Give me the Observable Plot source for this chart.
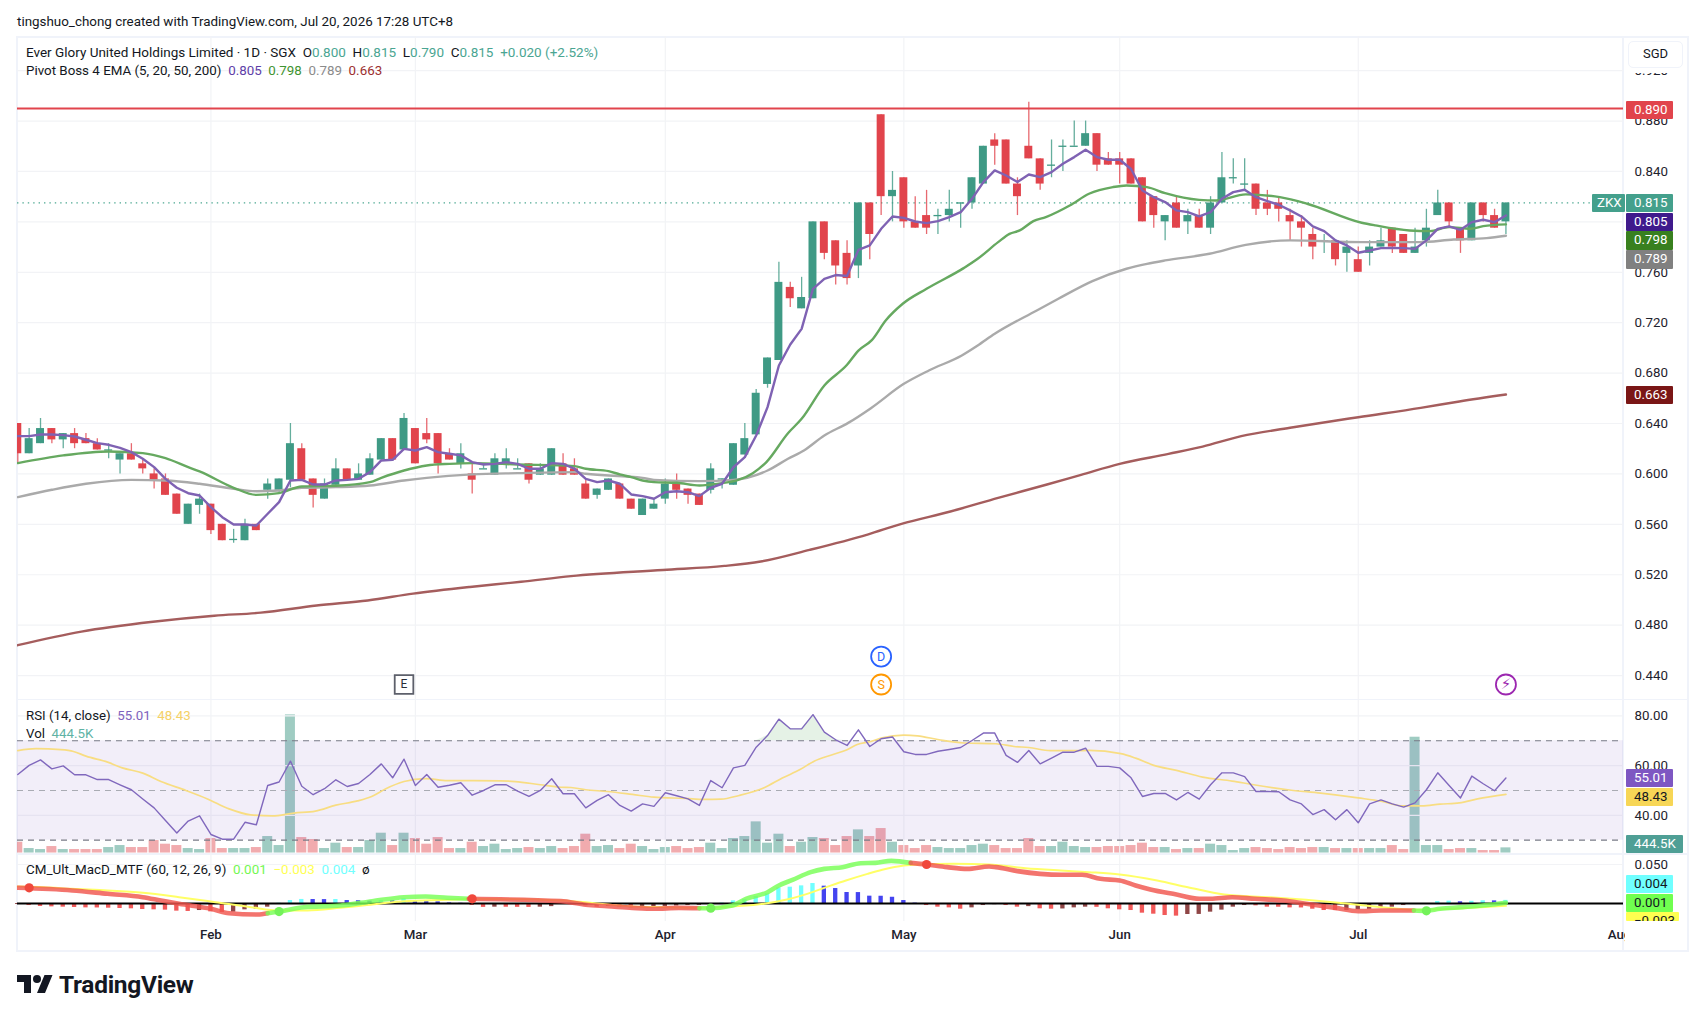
<!DOCTYPE html>
<html><head><meta charset="utf-8">
<script src="https://cdn.jsdelivr.net/npm/d3@7"></script>
<script src="https://cdn.jsdelivr.net/npm/@observablehq/plot@0.6"></script>
<style>
html,body{margin:0;padding:0;background:#fff;overflow:hidden;width:1702px;height:1014px}
body{position:relative;z-index:0;font-family:Roboto,"Liberation Sans",sans-serif;color:#131722}
svg{position:absolute;left:0;top:0}
.t{position:absolute;white-space:pre;line-height:16px}
.b{position:absolute;height:18.6px;line-height:18.6px;font-size:13.3px;padding-left:8.5px;box-sizing:border-box;border-radius:1px;color:#fff}
.ln{position:absolute;background:#f0f3fa}
</style></head><body>
<div id="root"></div>
<script>
const opens=[.640,.616,.624,.636,.627,.632,.628,.624,.619,.611,.616,.608,.600,.596,.584,.560,.575,.576,.560,.548,.547,.560,.587,.587,.595,.620,.596,.580,.591,.604,.595,.599,.611,.628,.619,.636,.632,.632,.616,.608,.600,.604,.599,.608,.604,.608,.599,.599,.608,.604,.592,.583,.587,.592,.580,.567,.572,.580,.592,.588,.584,.587,.596,.591,.615,.631,.671,.690,.748,.731,.739,.80,.785,.775,.765,.815,.885,.82,.835,.80,.805,.805,.805,.815,.815,.83,.865,.865,.83,.86,.85,.845,.86,.86,.86,.87,.85,.85,.85,.835,.82,.80,.815,.80,.805,.795,.815,.835,.83,.83,.815,.815,.805,.80,.79,.785,.785,.775,.77,.775,.78,.795,.79,.775,.785,.805,.815,.795,.785,.815,.805,.80];
const closes=[.616,.628,.636,.627,.632,.624,.624,.619,.619,.616,.611,.604,.595,.583,.568,.576,.580,.555,.547,.548,.560,.555,.592,.596,.624,.595,.583,.592,.604,.595,.600,.612,.628,.611,.644,.608,.627,.608,.611,.616,.595,.604,.612,.612,.604,.595,.604,.620,.599,.599,.580,.588,.596,.580,.572,.580,.576,.592,.587,.583,.575,.604,.596,.624,.628,.664,.692,.752,.739,.740,.80,.775,.765,.755,.815,.79,.82,.825,.80,.795,.795,.805,.81,.815,.835,.86,.86,.83,.82,.85,.83,.845,.86,.86,.87,.845,.845,.845,.83,.80,.805,.805,.795,.805,.795,.815,.835,.835,.83,.81,.81,.81,.80,.795,.78,.785,.77,.78,.76,.78,.785,.78,.775,.78,.795,.815,.80,.785,.815,.805,.795,.815];
const highs=[.640,.636,.644,.636,.632,.636,.632,.628,.624,.616,.624,.612,.604,.600,.584,.576,.584,.576,.560,.556,.564,.560,.596,.596,.640,.624,.596,.596,.612,.604,.608,.616,.628,.628,.648,.636,.644,.632,.620,.624,.608,.608,.616,.620,.612,.608,.608,.620,.616,.612,.596,.588,.596,.592,.580,.580,.580,.596,.600,.588,.584,.608,.596,.624,.640,.667,.692,.768,.752,.756,.80,.80,.785,.785,.815,.815,.885,.84,.835,.82,.825,.81,.825,.815,.835,.86,.87,.865,.835,.895,.85,.865,.865,.88,.88,.87,.855,.855,.85,.835,.82,.805,.82,.81,.81,.82,.855,.85,.85,.83,.825,.82,.81,.805,.795,.79,.785,.785,.78,.785,.795,.795,.79,.795,.81,.825,.815,.795,.815,.815,.81,.815];
const lows=[.608,.616,.624,.624,.620,.620,.624,.619,.612,.600,.611,.600,.588,.583,.568,.560,.568,.552,.547,.545,.547,.555,.580,.584,.589,.595,.573,.580,.591,.595,.595,.599,.611,.611,.619,.608,.624,.600,.611,.604,.584,.604,.599,.604,.604,.592,.599,.599,.599,.599,.580,.580,.587,.580,.572,.567,.572,.576,.580,.576,.575,.584,.588,.591,.615,.631,.668,.690,.732,.731,.739,.77,.75,.75,.755,.77,.805,.80,.795,.795,.79,.79,.80,.795,.81,.83,.845,.83,.805,.85,.825,.835,.84,.86,.86,.84,.845,.83,.83,.80,.795,.785,.795,.79,.795,.79,.815,.83,.825,.805,.805,.80,.785,.78,.77,.775,.765,.76,.76,.765,.78,.775,.775,.775,.78,.805,.795,.775,.785,.80,.795,.79];
const ema5=[.630,.630,.6313,.6313,.6308,.6297,.6271,.6244,.6231,.6207,.6173,.612,.6054,.5961,.589,.5847,.5829,.5736,.5657,.5599,.5599,.5591,.5684,.5776,.5948,.5953,.5916,.5916,.5948,.5953,.5961,.6014,.6107,.6112,.6199,.6186,.6213,.6173,.616,.6147,.6094,.6075,.608,.6094,.608,.6041,.6041,.6086,.608,.6041,.5961,.5935,.5948,.5922,.5837,.5824,.5803,.5855,.5863,.5855,.5824,.589,.5922,.6053,.6133,.6305,.653,.686,.7027,.7151,.7469,.7548,.7578,.757,.7778,.7813,.7945,.8043,.8032,.8003,.799,.8006,.8038,.8077,.8183,.8316,.8408,.8368,.8316,.8376,.8355,.8395,.8461,.8514,.8572,.8514,.8493,.8493,.842,.8249,.8196,.8157,.8091,.8077,.8043,.8077,.8183,.8236,.8255,.8196,.8165,.8136,.8091,.8043,.7964,.7927,.7853,.7813,.7755,.7773,.7792,.7794,.7792,.7786,.7853,.7945,.7964,.7937,.7998,.8017,.7998,.805];
const ema20X=[0,4,8,11,13,15,16,19,21,23,25,28,31,32,34,36,38,40,44,49,50,52,53,54,55,56,58,60,61,62,63.3,64.7,65.9,67.8,69,71,73,74,75.2,76.4,77.9,80,83.3,84.5,86.3,87.3,88.2,89.4,90.5,92.6,94.3,96.4,97.6,99.4,101,104,105.5,108.1,111.1,113.5,118.3,119.5,122.5,124.3,126,127.9,129,131];
const ema20=[.6086,.6147,.6178,.6165,.6125,.6054,.602,.589,.5834,.5848,.59,.5906,.5935,.5969,.6027,.6067,.608,.6086,.6075,.6062,.6041,.6022,.5996,.5975,.5948,.5935,.593,.5908,.5916,.5927,.5948,.6006,.6094,.6323,.6437,.6702,.6866,.6979,.7064,.7217,.735,.7469,.7635,.7707,.7839,.7905,.7932,.8006,.8038,.813,.8223,.8276,.8289,.8276,.8228,.8175,.817,.8218,.8196,.8144,.7993,.7972,.7932,.7927,.7958,.7945,.7966,.798];
const ema50X=[0,3,6,10,13,16,19,21,23,25,28,31,34,36,40,44,49,50,55,56,60,63,66,67.8,69.2,71,73.1,75.1,78,80.2,83.1,84.5,86,89.7,91.6,94.6,97.6,99.4,101,104.9,108.1,112,118.3,123.4,126.4,129.3,131];
const ema50=[.5816,.5874,.5922,.5953,.5948,.5922,.5882,.5863,.5869,.589,.5895,.5908,.5948,.5969,.5996,.6006,.6014,.6001,.5969,.5953,.5943,.5953,.6027,.612,.6186,.6305,.6405,.6522,.6715,.6821,.694,.7019,.7112,.7297,.739,.753,.7628,.7667,.7694,.7747,.7818,.7853,.7839,.7839,.786,.7871,.789];
const ema200X=[0,5.6,11.9,17.3,21.4,26.3,30.8,34.8,39.8,44.3,48.7,56.8,62.2,65.4,69.7,74.8,77.8,82.1,86.3,90.6,93.6,97,101.3,104.3,107.7,112,118,123.5,126.9,131];
const ema200=[.4641,.4749,.4827,.4875,.4899,.4956,.4996,.505,.5103,.5144,.5189,.5238,.527,.5305,.5397,.5519,.5604,.5702,.581,.5916,.5993,.608,.6159,.6217,.63,.6366,.645,.6524,.6575,.663];
const rsi=[56.4,60.1,62.3,58.7,59.9,56.3,56.3,54.4,54.4,52.3,50.3,46.6,43,37.9,32.9,37.7,39.8,32.3,30.4,30.4,37.2,36.2,52,53.4,61.8,51.7,48.3,50.7,54.3,51.6,52.8,56.4,60.7,55.1,62.6,52,56.4,51.3,52.1,53.1,48.1,50,52.3,52.3,49.7,47.6,50,54.7,48.7,48.7,43,46,48.3,44,41.7,44.6,43.6,49.1,47.9,46.6,44,54,51.1,59.1,60.1,67.4,72.1,78.7,74.8,74.8,80.5,73.5,70.4,68.1,74.4,67.7,70.8,71.5,65.6,64.5,64.5,65.8,66.5,67.3,70.1,73.1,73.1,64.1,61.3,66.1,60.7,63,65.4,65.4,67,59.7,59.7,59.1,55.1,47.6,48.8,48.8,46.2,49.2,46.5,52.3,57.1,57.1,55.6,49.6,49.6,49.5,46.2,44.6,40.3,42.3,38.2,42.3,37,44.6,46.2,44.6,43.3,45,50.3,57.1,52,47,55.8,52.7,49.9,55.01];
const rsiMaX=[0,1.6,3.8,4.9,6,7.9,9.2,11,12.6,14.8,16.7,18.6,20.5,22.4,24.3,26.2,28,29.9,31.2,32.4,34,35.9,37.8,42.5,43.8,46,47.8,48.7,50,51.9,54.1,56,58.8,60.4,61.9,63.5,65.7,67.3,68.9,70.1,71.7,73,73.9,75.1,76.1,78,79.2,81.1,83.3,86.1,87.7,89,90.9,93,94.3,97.1,98.4,100,102,104.3,106.9,108.8,111.8,114.7,118,120,121.9,123.6,125.2,126.9,128.5,131];
const rsiMa=[66,66.8,66.4,65.7,63.8,61.4,59.1,57,53.6,50,46.6,42.6,40.2,39.8,40.9,41.7,44.1,45.8,47.7,50.7,53.6,54.8,54,53.9,53.6,52.3,51.3,51.2,50.3,49.6,48.4,47.3,46.8,46.4,46.5,48,51.1,55,58.5,61.8,64.4,66.4,68.5,69.7,71.2,72.3,72,70.4,69.1,68.8,67.7,67.3,66,66,66.1,64.8,63,60.1,58.1,55.4,53.8,52.3,50.3,48.9,47,45.7,43.8,43.8,44.5,45,46.6,48.43];
const volumeK=[917,389,306,556,306,306,306,306,473,639,473,473,1056,750,639,389,306,1223,389,389,389,473,1390,639,11537,1307,1140,389,834,473,473,1056,1668,639,1668,1223,750,1307,389,389,917,556,750,306,389,473,389,556,389,556,1585,556,639,389,750,556,306,473,556,389,473,834,389,1223,1390,2613,834,1585,556,917,1307,1223,639,1390,1946,1390,2057,917,639,389,639,473,389,389,639,750,639,389,389,1223,556,556,917,556,473,473,556,556,639,834,473,473,306,389,389,750,639,222,389,473,389,306,473,389,473,473,389,389,389,389,389,639,306,9674,639,639,306,389,389,222,222,444.5];
const macdX=[0,4.8,7.9,11,12.6,14.2,17,18.6,21.1,22,23,25.2,28.4,31.2,34,35.9,37.8,39.7,47.8,50,51.9,54.1,56,58.2,60,60.9,62.9,64.1,66,67,68.2,69.8,71,72.6,74.2,75.5,76.9,78.6,80,81.8,83.6,85.5,86.1,88,90,91.9,93.7,95.3,97,98.4,99.7,102,104,105,106.9,108.9,111.4,113.4,116,118,120,122.9,123.9,125.2,127.2,129.8,131];
const macdV=[.0201,.0167,.0124,.0081,.0038,-.0004,-.0068,-.0124,-.0141,-.0124,-.0103,-.0047,-.0026,.003,.0081,.009,.0073,.006,.003,-.0017,-.0034,-.0056,-.0068,-.0056,-.006,-.006,-.0026,.006,.0145,.0231,.0303,.0402,.0444,.0466,.0517,.0521,.0547,.0521,.05,.0466,.0444,.0474,.0466,.0415,.038,.0368,.0368,.0316,.0295,.0231,.018,.0115,.006,.006,.0081,.006,.0038,-.0004,-.0056,-.0098,-.009,-.009,-.0094,-.0068,-.0047,-.0013,.001];
const macdBreaks=[22,39.7,60,78.6,122.9,131];
const crossX=[1,23,40,61,80,124];
const signalX=[0,2.3,4.8,7.9,11,14.2,17.4,20.5,23,25.5,28.4,31.8,34,37.8,40,47.8,54.1,57.2,60.4,62.9,65.7,67.6,69.2,71,72.9,74.8,76.1,78,79.2,82.4,85.5,88.7,91.8,94.3,97,100.3,103,106.2,110.1,113.4,116.7,120,123,126.2,131];
const signalV=[.0218,.0209,.0188,.0167,.0137,.0081,.0017,-.0047,-.009,-.009,-.0056,-.0004,.003,.0047,.006,.0038,-.0038,-.0047,-.0056,-.0038,-.0004,.0047,.0111,.0201,.0295,.038,.0432,.0487,.05,.0509,.05,.0453,.0423,.0402,.0372,.0295,.0209,.0115,.0081,.0047,.0004,-.0047,-.0081,-.0068,-.003];
const histMilli=[-1.3,-2.6,-3.8,-4.3,-4.7,-5.1,-5.6,-5.7,-6,-6.4,-6.8,-7.7,-8.1,-8.5,-9.8,-10.2,-9,-10.7,-11.5,-11.1,-8.1,-7.3,-4.7,.4,3.8,5.2,5.1,5,5.1,3.8,3.6,3,3.8,3.7,6,3.8,3.7,2.1,.8,.3,-2.5,-5,-4.7,-4.8,-4.9,-5,-4.7,-4,-1.3,-1.7,-3,-4.7,-3.8,-4.7,-5.6,-5.4,-5.2,-3.8,-3.2,-2.6,-2.4,-1.3,.5,3.4,5.1,9,12.4,20,20.9,22.6,25.6,22.2,19.2,14.1,14,9.4,9.3,8,3.8,.5,-2.6,-4.7,-5.6,-7.3,-5.6,-2.6,-1.5,-2.6,-4.7,-4,-6.8,-7.3,-7,-5.6,-4.7,-4.9,-6.8,-8.1,-9,-12.4,-13.7,-15.4,-16.2,-14.1,-14,-11.1,-8.5,-4.7,-2.6,-3,-4.7,-4.8,-5.6,-5.7,-7.3,-9,-9.1,-8.9,-8,-7.5,-6.4,-4.7,-2.6,-1.3,-.5,2.5,3,2.2,2.8,3.5,3.4,4];
const monthTicks=[17,35,57,78,97,118,141];
const monthNames=["Feb","Mar","Apr","May","Jun","Jul","Aug"];
const priceTicks=[.44,.48,.52,.56,.60,.64,.68,.72,.76,.80,.84,.88,.92];
const rsiTicks=[40,60,80];
const rsiLevels=[30,50,70];
const macdTicks=[.05];

const GREEN="#3f9a85",RED="#e1444c",GRID="#f2f3f6";
const FONT='Roboto,"Liberation Sans",sans-serif';
const xDomain=[-0.026,141.35];
const idx=d3.range(opens.length);
const root=document.getElementById("root");
const pts=(xs,ys)=>xs.map((x,i)=>({x,y:ys[i]}));
const pane=(top,bottom,height,domain,marks)=>{
  const p=Plot.plot({width:1702,height,marginTop:top,marginBottom:height-bottom,marginLeft:17,marginRight:79,
    x:{domain:xDomain,axis:null},y:{domain,axis:null},
    style:{background:"transparent",fontFamily:FONT,fontSize:"13.3px",color:"#1e222d",overflow:"visible"},marks});
  root.appendChild(p);return p;};
const yAxis=(ticks,fmt)=>Plot.axisY(ticks,{anchor:"right",tickSize:0,tickPadding:11,tickFormat:fmt,label:null});
const gridV=()=>Plot.gridX(monthTicks.slice(0,6),{stroke:GRID,strokeOpacity:1,strokeWidth:1.2});
const gridH=t=>Plot.gridY(t,{stroke:GRID,strokeOpacity:1,strokeWidth:1.2});
const up=i=>closes[i]>=opens[i];
const col=i=>up(i)?GREEN:RED;

// Main price pane
const bodies=idx.filter(i=>opens[i]!==closes[i]), dojis=idx.filter(i=>opens[i]===closes[i]);
const lastClose=closes[closes.length-1];
const smooth={x:"x",y:"y",strokeWidth:2.4,curve:"monotone-x",clip:true};
pane(36,699,699,[.4210,.9471],[
  gridH(priceTicks),gridV(),
  yAxis(priceTicks,d3.format(".3f")),
  Plot.ruleY([lastClose],{stroke:"#4da892",strokeWidth:1.2,strokeDasharray:"1.4,4"}),
  Plot.ruleX(idx,{x:i=>i,y1:i=>lows[i],y2:i=>highs[i],stroke:col,strokeWidth:1.3,strokeOpacity:.8,clip:true}),
  Plot.rect(bodies,{x1:i=>i-.35,x2:i=>i+.35,y1:i=>Math.min(opens[i],closes[i]),y2:i=>Math.max(opens[i],closes[i]),fill:col,clip:true}),
  Plot.ruleY(dojis,{y:i=>closes[i],x1:i=>i-.35,x2:i=>i+.35,stroke:col,strokeWidth:1.3}),
  Plot.line(pts(ema200X,ema200),{...smooth,stroke:"#a55d5d"}),
  Plot.line(pts(ema50X,ema50),{...smooth,stroke:"#aaaaaa"}),
  Plot.line(pts(ema20X,ema20),{...smooth,stroke:"#66a960"}),
  Plot.line(pts(idx,ema5),{x:"x",y:"y",stroke:"#7f62b3",strokeWidth:2.4,strokeLinejoin:"round",clip:true}),
  Plot.ruleY([.89],{stroke:RED,strokeWidth:2}),
  Plot.dot([{x:34,y:.4329}],{x:"x",y:"y",symbol:"square",r:10.5,stroke:"#5d606b",strokeWidth:1.8,fill:"#fff"}),
  Plot.text([{x:34,y:.4329,t:"E"}],{x:"x",y:"y",text:"t",fill:"#2a2e39",fontSize:12}),
  Plot.dot([{x:76,y:.4551}],{x:"x",y:"y",r:10,stroke:"#2962ff",strokeWidth:1.8,fill:"#fff"}),
  Plot.text([{x:76,y:.4551,t:"D"}],{x:"x",y:"y",text:"t",fill:"#2962ff",fontSize:12.5}),
  Plot.dot([{x:76,y:.4329}],{x:"x",y:"y",r:10,stroke:"#ff9800",strokeWidth:1.8,fill:"#fff"}),
  Plot.text([{x:76,y:.4329,t:"S"}],{x:"x",y:"y",text:"t",fill:"#ff9800",fontSize:12.5}),
  Plot.dot([{x:131,y:.4329}],{x:"x",y:"y",r:10,stroke:"#9c27b0",strokeWidth:1.8,fill:"#fff"}),
  Plot.text([{x:131,y:.4329,t:"\u26A1"}],{x:"x",y:"y",text:"t",fill:"#9c27b0",fontSize:15,fontFamily:"DejaVu Sans"})
]);

// Volume (own scale) below the RSI
pane(699,852.7,853,[0,12820],[
  Plot.rect(idx,{x1:i=>i-.44,x2:i=>i+.44,y1:0,y2:i=>volumeK[i],fill:col,fillOpacity:i=>up(i)?.5:.45,clip:true})
]);

// RSI pane
const over=idx.filter(i=>i>=65&&i<=73);
pane(699,853,853,[24.65,86.6],[
  gridH(rsiTicks),gridV(),
  Plot.rect([0],{x1:xDomain[0],x2:xDomain[1],y1:rsiLevels[0],y2:rsiLevels[2],fill:"#7e57c2",fillOpacity:.1}),
  Plot.areaY(over,{x:i=>i,y1:70,y2:i=>Math.max(70,rsi[i]),fill:"#5fae66",fillOpacity:.16}),
  Plot.ruleY([rsiLevels[0],rsiLevels[2]],{stroke:"#787b86",strokeWidth:1.2,strokeDasharray:"6,5"}),
  Plot.ruleY([rsiLevels[1]],{stroke:"#a9abb3",strokeWidth:1.2,strokeDasharray:"6,5"}),
  Plot.line(pts(rsiMaX,rsiMa),{x:"x",y:"y",stroke:"#f8dd82",strokeWidth:1.7,curve:"monotone-x"}),
  Plot.line(pts(idx,rsi),{x:"x",y:"y",stroke:"#8068bd",strokeWidth:1.4}),
  yAxis(rsiTicks,d3.format(".2f"))
]);

// MACD pane
const macdPts=pts(macdX,macdV), seg=(a,b)=>macdPts.filter(d=>d.x>=a&&d.x<=b);
const HC=i=>{const v=histMilli[i],p=i?histMilli[i-1]:v;return v>=0?(v>=p?"#70ffff":"#4444f0"):(v<p?"#f25a5a":"#8f4646");};
const macdAt=x=>d3.least(macdPts,d=>Math.abs(d.x-x)).y;
pane(853,921,951,[-18/780,50/780],[
  gridH(macdTicks),gridV(),
  Plot.rect(idx,{x1:i=>i-.19,x2:i=>i+.19,y1:0,y2:i=>histMilli[i]/1000,fill:HC}),
  Plot.ruleY([0],{stroke:"#000",strokeWidth:2}),
  Plot.line(pts(signalX,signalV),{x:"x",y:"y",stroke:"#ffff66",strokeWidth:2,curve:"monotone-x"}),
  ...macdBreaks.map((b,k)=>Plot.line(seg(k?macdBreaks[k-1]:0,b),{x:"x",y:"y",stroke:k%2?"#78ff55":"#f0564e",strokeWidth:4.6,strokeOpacity:.82,strokeLinejoin:"round",curve:"monotone-x",clip:true})),
  Plot.dot(crossX,{x:d=>d,y:macdAt,r:4.6,fill:(d,i)=>i%2?"#74f25a":"#f0483c"}),
  yAxis(macdTicks,d3.format(".3f")),
  Plot.axisX(monthTicks,{anchor:"bottom",tickSize:0,tickPadding:8,tickFormat:(d,i)=>monthNames[monthTicks.indexOf(d)],label:null,fontWeight:500})
]);

// Frame, legends and price badges
const add=(cls,css,html)=>{const e=document.createElement("div");e.className=cls;e.style.cssText=css;if(html!=null)e.innerHTML=html;document.body.appendChild(e);return e;};
const frame=[[17,35.5,1671,2],[17,950,1671,2],[16,35.5,2,916],[1687,35.5,2,916],[1622,35.5,1.5,916],[17,698.5,1671,1.6],[17,853,1671,1.6]];
frame.forEach(([l,t,w,h])=>add("ln",`left:${l}px;top:${t}px;width:${w}px;height:${h}px;z-index:-1`));
add("", "position:absolute;left:1625px;top:924px;width:50px;height:24px;background:#fff");
const T=(l,cy,fs,html)=>add("t",`left:${l}px;top:${cy-8}px;font-size:${fs}px`,html);
const v=(c,s)=>`<span style="color:${c}">${s}</span>`;
T(17,21.5,13.4,"tingshuo_chong created with TradingView.com, Jul 20, 2026 17:28 UTC+8");
const G="#4aa592";
T(26,51.5,13.5,`Ever Glory United Holdings Limited · 1D · SGX  O${v(G,"0.800")}  H${v(G,"0.815")}  L${v(G,"0.790")}  C${v(G,"0.815")}  ${v(G,"+0.020 (+2.52%)")}`);
T(26,70.5,13.35,`Pivot Boss 4 EMA (5, 20, 50, 200)  ${v("#5e3ea8","0.805")}  ${v("#3f9431","0.798")}  ${v("#8b8b8b","0.789")}  ${v("#9c2f2f","0.663")}`);
T(26,715.5,13.3,`RSI (14, close)  ${v("#7e62bd","55.01")}  ${v("#f5d166","48.43")}`);
T(26,733.5,13.3,`Vol  ${v("#5fb3a5","444.5K")}`);
T(26,870,13.45,`CM_Ult_MacD_MTF (60, 12, 26, 9)  ${v("#74f753","0.001")}  ${v("#ffff55","\u22120.003")}  ${v("#72ffff","0.004")}  ø`);
const B=(t,cy,bg,fg,w)=>add("b",`left:1625.5px;top:${cy-9.3}px;width:${w||47.5}px;background:${bg};color:${fg||"#fff"}`,t);
B("0.890",110,"#e1444c");
B("0.815",203,"#44a08c");
B("0.805",222,"#3f1a8c");
B("0.798",240.6,"#38801f");
B("0.789",259.3,"#808080");
B("0.663",395,"#7a1616");
B("55.01",778,"#7e57c2");
B("48.43",797,"#f7d656","#131722");
B("444.5K",844,"#4f9f95","#fff",57);
B("0.004",884,"#70ffff","#131722");
B("0.001",903,"#70ff50","#131722");
const yb=B("\u22120.003",921,"#ffff50","#131722",53.5);
yb.style.height="9.3px";yb.style.overflow="hidden";
add("b","left:1592px;top:193.7px;width:32.5px;padding-left:5px;background:#44a08c","ZKX");
add("","position:absolute;left:1625px;top:38px;width:61px;height:35px;background:#fff");
add("","position:absolute;left:1628px;top:41px;width:55px;height:27px;box-sizing:border-box;background:#fff;border:1.5px solid #f0f3fa;border-radius:5px;font-size:13px;line-height:24px;text-align:center","SGD");
add("","position:absolute;left:17px;top:973px;height:24px;width:240px",`<svg width="36" height="24" viewBox="0 0 36 24" style="position:absolute;left:0;top:0"><path fill="#131722" d="M14 20H7V9H0V2h14v18zM28 20h-8l7.5-18h8L28 20z"/><circle cx="20" cy="6" r="4" fill="#131722"/></svg><span style="position:absolute;left:42px;top:-1px;font:700 24.5px/26px Roboto,sans-serif;letter-spacing:-.3px;color:#131722">TradingView</span>`);
</script>
</body></html>
